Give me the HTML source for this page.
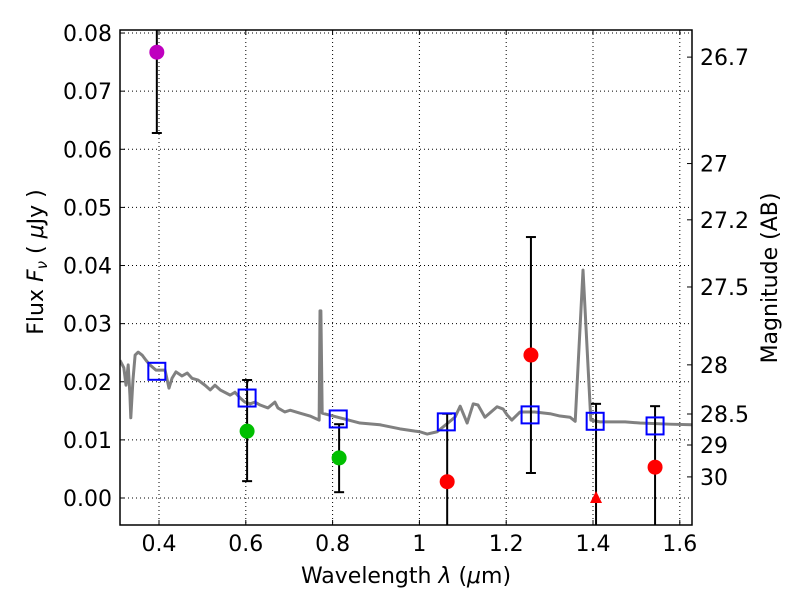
<!DOCTYPE html>
<html><head><meta charset="utf-8"><style>
html,body{margin:0;padding:0;background:#fff}
svg{display:block;font-family:"DejaVu Sans","Liberation Sans",sans-serif}
</style></head><body>
<svg id="c" width="800" height="600"></svg>
<script>
const specLam=[0.310,0.319,0.324,0.329,0.333,0.335,0.340,0.345,0.352,0.361,0.370,0.379,0.393,0.414,0.423,0.430,0.439,0.453,0.465,0.476,0.490,0.506,0.518,0.529,0.541,0.564,0.575,0.587,0.598,0.610,0.621,0.633,0.651,0.667,0.674,0.690,0.702,0.725,0.748,0.769,0.771,0.773,0.776,0.817,0.863,0.909,0.955,0.990,1.001,1.018,1.041,1.082,1.094,1.110,1.124,1.135,1.151,1.179,1.193,1.202,1.213,1.232,1.266,1.301,1.324,1.347,1.359,1.377,1.395,1.416,1.474,1.508,1.577,1.628];
const specFlux=[0.0237,0.0224,0.0194,0.0229,0.0177,0.0138,0.0203,0.0246,0.0251,0.0246,0.0237,0.0229,0.0220,0.0220,0.0189,0.0206,0.0217,0.0210,0.0215,0.0206,0.0203,0.0194,0.0186,0.0194,0.0186,0.0177,0.0182,0.0172,0.0165,0.0162,0.0165,0.0160,0.0155,0.0165,0.0155,0.0148,0.0151,0.0146,0.0141,0.0134,0.0322,0.0322,0.0146,0.0138,0.0129,0.0126,0.0119,0.0115,0.0114,0.0110,0.0114,0.0139,0.0158,0.0129,0.0162,0.0160,0.0139,0.0157,0.0153,0.0143,0.0134,0.0148,0.0148,0.0145,0.0141,0.0139,0.0132,0.0392,0.0134,0.0131,0.0131,0.0129,0.0127,0.0126];
const modelLam=[0.395,0.603,0.813,1.062,1.255,1.405,1.543];
const modelFlux=[0.0218,0.0172,0.0136,0.0131,0.0143,0.0132,0.0124];
const obsLam=[0.395,0.603,0.815,1.064,1.257,1.407,1.543];
const obsFlux=[0.0767,0.0115,0.0069,0.0028,0.0246,0.0,0.0053];
const obsLo=[0.0628,0.0029,0.0010,-0.02,0.0043,-0.02,-0.02];
const obsHi=[0.10,0.0203,0.0127,0.0145,0.0449,0.0162,0.0158];
const obsColor=["#bf00bf","#00bf00","#00bf00","#ff0000","#ff0000","#ff0000","#ff0000"];
const obsUpper=[false,false,false,false,false,true,false];
const xTicks=[0.4,0.6,0.8,1.0,1.2,1.4,1.6];
const xTickLabels=["0.4","0.6","0.8","1","1.2","1.4","1.6"];
const yTicks=[0,0.01,0.02,0.03,0.04,0.05,0.06,0.07,0.08];
const yTickLabels=["0.00","0.01","0.02","0.03","0.04","0.05","0.06","0.07","0.08"];
const magTicks=[26.7,27,27.2,27.5,28,28.5,29,30];
const magTickLabels=["26.7","27","27.2","27.5","28","28.5","29","30"];

const L=120,R=692,T=30,B=525;
const X=v=>159+(v-0.4)*434;
const Y=v=>498-v*5812;
const svg=document.getElementById('c');
const NS="http://www.w3.org/2000/svg";
function mk(tag,attrs,parent){const e=document.createElementNS(NS,tag);for(const k in attrs)e.setAttribute(k,attrs[k]);(parent||svg).appendChild(e);return e;}
const defs=mk('defs',{});const cp=mk('clipPath',{id:'clip'},defs);mk('rect',{x:L,y:T,width:R-L,height:B-T},cp);
const grid=mk('g',{});


xTicks.forEach((v,i)=>{
  const x=X(v);
  mk('line',{x1:x,x2:x,y1:T,y2:B,stroke:'#000','stroke-width':1,'stroke-dasharray':'1,3'},grid);
  mk('line',{x1:x,x2:x,y1:B,y2:B-5,stroke:'#000'});
  mk('line',{x1:x,x2:x,y1:T,y2:T+5,stroke:'#000'});
  const t=mk('text',{x:x,y:B+26,'text-anchor':'middle','font-size':22});t.textContent=xTickLabels[i];
  
  
});
yTicks.forEach((v,i)=>{
  const y=Y(v);
  mk('line',{x1:L,x2:R,y1:y,y2:y,stroke:'#000','stroke-width':1,'stroke-dasharray':'1,3'},grid);
  mk('line',{x1:L,x2:L+5,y1:y,y2:y,stroke:'#000'});
  const t=mk('text',{x:L-8,y:y+8,'text-anchor':'end','font-size':22});t.textContent=yTickLabels[i];
  
  
});
magTicks.forEach((m,i)=>{
  const y=Y(Math.pow(10,(23.9-m)/2.5));
  mk('line',{x1:R,x2:R-5,y1:y,y2:y,stroke:'#000'});
  const t=mk('text',{x:R+8,y:y+8,'font-size':22});t.textContent=magTickLabels[i];
  
  
});
const plot=mk('g',{'clip-path':'url(#clip)'});
const sp=mk('polyline',{points:specLam.map((l,i)=>X(l)+','+Y(specFlux[i])).join(' '),fill:'none',stroke:'#808080','stroke-width':3,'stroke-linejoin':'round'},plot);


obsLam.forEach((l,i)=>{
  const x=X(l);const y1=Y(obsHi[i]),y2=Y(obsLo[i]);
  const eb=mk('line',{x1:x,x2:x,y1:y1,y2:y2,stroke:'#000','stroke-width':2},plot);
  
  
  [obsHi[i],obsLo[i]].forEach(v=>{const yy=Y(v);if(yy>T&&yy<B)mk('line',{x1:x-5,x2:x+5,y1:yy,y2:yy,stroke:'#000','stroke-width':2},plot);});
});
modelLam.forEach((l,i)=>{
  const s=mk('rect',{x:X(l)-8.5,y:Y(modelFlux[i])-8.5,width:17,height:17,fill:'none',stroke:'#0000ff','stroke-width':2},plot);
  
  
});
obsLam.forEach((l,i)=>{
  const x=X(l),y=Y(obsFlux[i]);let m;
  if(obsUpper[i]) m=mk('polygon',{points:`${x},${y-7} ${x-6},${y+5} ${x+6},${y+5}`,fill:obsColor[i]},plot);
  else m=mk('circle',{cx:x,cy:y,r:7.5,fill:obsColor[i]},plot);
  
  
});
const fr=mk('rect',{x:L,y:T,width:R-L,height:B-T,fill:'none',stroke:'#000','stroke-width':1.5});


const xl=mk('text',{x:406,y:583,'text-anchor':'middle','font-size':22});
xl.innerHTML='Wavelength  <tspan font-style="italic">λ</tspan> (<tspan font-style="italic">μ</tspan>m)';


const yl=mk('text',{x:0,y:0,'text-anchor':'middle','font-size':22,transform:'translate(43,262) rotate(-90)'});
yl.innerHTML='Flux  <tspan font-style="italic">F</tspan><tspan font-style="italic" font-size="15" dy="4">ν</tspan><tspan dy="-4">  (  </tspan><tspan font-style="italic">μ</tspan>Jy )';


const rl=mk('text',{x:0,y:0,'text-anchor':'middle','font-size':22,transform:'translate(777,278) rotate(-90)'});
rl.textContent='Magnitude (AB)';


</script>
</body></html>
